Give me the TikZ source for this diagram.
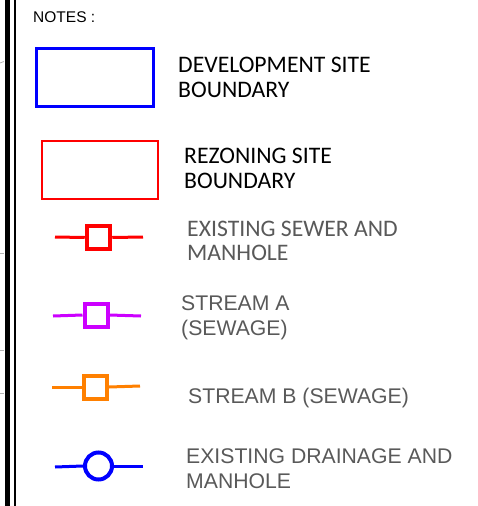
\documentclass[tikz,border=0pt]{standalone}
\usepackage{fontspec}
\setmainfont{Liberation Sans}
\newfontfamily\calfont{Carlito}
\definecolor{legblue}{RGB}{0,0,255}
\definecolor{legred}{RGB}{255,0,0}
\definecolor{legviolet}{RGB}{204,0,255}
\definecolor{legorange}{RGB}{255,128,0}
\definecolor{leggray}{RGB}{89,89,89}

\begin{document}
\begin{tikzpicture}[x=1pt,y=-1pt,
		label/.style={anchor=north west,inner sep=0pt,align=left},
		blacktxt/.style={label,text=black,font=\calfont\fontsize{23.7}{25}\selectfont},
		graytxt/.style={label,text=leggray,font=\calfont\fontsize{23.7}{24}\selectfont},
		arialtxt/.style={label,text=leggray,font=\fontsize{21.2}{25}\selectfont},
		sitebox/.style={rectangle,inner sep=0pt,minimum width=#1,minimum height=58pt},
		manhole/.style={rectangle,inner sep=0pt,minimum size=23pt,line width=4.5pt,fill=white},
		pipe/.style={line width=3pt}]
			\useasboundingbox (0,0) rectangle (478,506);
			% frame at the left
			\draw[line width=5pt] (7.5,0) -- (7.5,506);
			\draw[line width=2pt] (15,0) -- (15,506);
			\draw[gray!60,line width=0.8pt] (0,63) -- (4,61.5);
			\draw[gray!60,line width=0.8pt] (0,253) -- (4,253);
			\draw[gray!60,line width=0.8pt] (0,350) -- (4,350);
			\draw[gray!60,line width=0.8pt] (0,393) -- (4,393);

			\node[label,font=\fontsize{15.5}{18}\selectfont] (notes) at (33,11) {NOTES :};

			% site boundaries
			\node[sitebox=117pt,draw=legblue,line width=3pt] (devbox) at (94.5,77) {};
			\node[blacktxt] (devtxt) at (178,57) {DEVELOPMENT SITE\\BOUNDARY};
			\node[sitebox=116pt,draw=legred,line width=2.5pt] (rezbox) at (100,170) {};
			\node[blacktxt] (reztxt) at (184,148) {REZONING SITE\\BOUNDARY};

			% sewer
			\coordinate (sewL) at (55,237);
			\coordinate (sewR) at (143,237);
			\node[manhole,draw=legred] (sewmh) at (98.5,237.5) {};
			\draw[pipe,legred] (sewL) -- (sewmh.west);
			\draw[pipe,legred] (sewmh.east) -- (sewR);
			\node[graytxt] (sewtxt) at (187,221) {EXISTING SEWER AND\\MANHOLE};

			% stream A
			\coordinate (strAL) at (53,316);
			\coordinate (strAR) at (141,316);
			\node[manhole,draw=legviolet,line width=4pt] (strAmh) at (96,315) {};
			\draw[pipe,legviolet] (strAL) -- (strAmh.west);
			\draw[pipe,legviolet] (strAmh.east) -- (strAR);
			\node[arialtxt] (strAtxt) at (181,295) {STREAM A\\(SEWAGE)};

			% stream B
			\coordinate (strBL) at (52,387);
			\coordinate (strBR) at (140,386);
			\node[manhole,draw=legorange,line width=4pt] (strBmh) at (95.5,387) {};
			\draw[pipe,legorange] (strBL) -- (strBmh.west);
			\draw[pipe,legorange] (strBmh.east) -- (strBR);
			\node[arialtxt] (strBtxt) at (188,388) {STREAM B (SEWAGE)};

			% drainage
			\coordinate (drnL) at (55,467);
			\coordinate (drnR) at (143,466);
			\node[circle,inner sep=0pt,minimum size=27pt,draw=legblue,line width=4pt,fill=white] (drnmh) at (98.5,466) {};
			\draw[pipe,legblue] (drnL) -- (drnmh.west);
			\draw[pipe,legblue] (drnmh.east) -- (drnR);
			\node[arialtxt] (drntxt) at (186,448) {EXISTING DRAINAGE AND\\MANHOLE};
			\end{tikzpicture}
\end{document}
